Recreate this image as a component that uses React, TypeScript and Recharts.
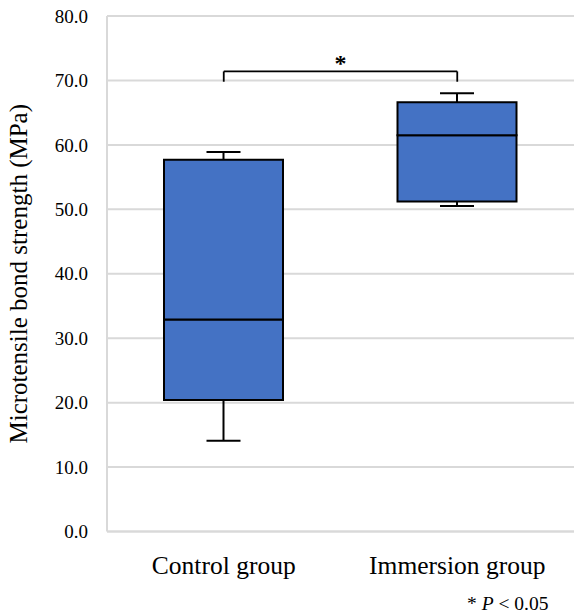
import React from "react";
import {
  ComposedChart,
  Bar,
  XAxis,
  YAxis,
  CartesianGrid,
  ReferenceLine,
} from "recharts";

const groups = ["Control group", "Immersion group"];
const mins = [14.1, 50.5];
const q1s = [20.4, 51.2];
const medians = [32.9, 61.5];
const q3s = [57.7, 66.6];
const maxs = [58.9, 68.0];
const yTicks = [0, 10, 20, 30, 40, 50, 60, 70, 80];

const bracketY = 71.4;
const bracketFoot = 69.8;

const BOX_FILL = "#4472C4";
const GRID = "#d9d9d9";
const FONT = "'Liberation Serif', 'Times New Roman', serif";

const rows = groups.map((g, i) => ({
  group: g,
  base: mins[i],
  lowWhisker: q1s[i] - mins[i],
  lowBox: medians[i] - q1s[i],
  highBox: q3s[i] - medians[i],
  highWhisker: maxs[i] - q3s[i],
}));

function LowWhisker(props: any) {
  const { x, y, width, height } = props;
  const cx = x + width / 2;
  return (
    <g stroke="#000" strokeWidth={2}>
      <line x1={cx} x2={cx} y1={y} y2={y + height} />
      <line x1={cx - 17} x2={cx + 17} y1={y + height} y2={y + height} />
    </g>
  );
}

function HighWhisker(props: any) {
  const { x, y, width, height } = props;
  const cx = x + width / 2;
  return (
    <g stroke="#000" strokeWidth={2}>
      <line x1={cx} x2={cx} y1={y} y2={y + height} />
      <line x1={cx - 17} x2={cx + 17} y1={y} y2={y} />
    </g>
  );
}

function YTitle(props: any) {
  const vb = props.viewBox;
  const cy = vb.y + vb.height / 2;
  return (
    <text
      x={27}
      y={cy}
      transform={`rotate(-90, 27, ${cy})`}
      textAnchor="middle"
      fontFamily={FONT}
      fontSize={25}
      fill="#000"
    >
      Microtensile bond strength (MPa)
    </text>
  );
}

function Star(props: any) {
  const vb = props.viewBox;
  return (
    <text
      x={vb.x + vb.width / 2}
      y={vb.y}
      textAnchor="middle"
      fontFamily={FONT}
      fontWeight="bold"
      fontSize={24}
      fill="#000"
    >
      *
    </text>
  );
}

export default function App() {
  return (
    <div style={{ position: "absolute", left: 0, top: 0, width: 574, height: 615, background: "#fff" }}>
      <ComposedChart
        width={574}
        height={615}
        data={rows}
        margin={{ top: 16, right: 0, left: 0, bottom: 0 }}
      >
        <CartesianGrid vertical={false} stroke={GRID} strokeWidth={2} />
        <XAxis
          dataKey="group"
          height={83.5}
          axisLine={{ stroke: GRID, strokeWidth: 2 }}
          tickLine={false}
          tickSize={0}
          tickMargin={24}
          tick={{ fontFamily: FONT, fontSize: 25.5, fill: "#000" }}
        />
        <YAxis
          width={107}
          domain={[0, 80]}
          ticks={yTicks}
          interval={0}
          tickFormatter={(v: number) => v.toFixed(1)}
          axisLine={{ stroke: GRID, strokeWidth: 2 }}
          tickLine={false}
          tickSize={0}
          tickMargin={19}
          tick={{ fontFamily: FONT, fontSize: 19, fill: "#000" }}
          label={<YTitle />}
        />
        <Bar dataKey="base" stackId="box" fill="none" barSize={119} isAnimationActive={false} />
        <Bar dataKey="lowWhisker" stackId="box" barSize={119} shape={<LowWhisker />} isAnimationActive={false} />
        <Bar dataKey="lowBox" stackId="box" barSize={119} fill={BOX_FILL} stroke="#000" strokeWidth={2} isAnimationActive={false} />
        <Bar dataKey="highBox" stackId="box" barSize={119} fill={BOX_FILL} stroke="#000" strokeWidth={2} isAnimationActive={false} />
        <Bar dataKey="highWhisker" stackId="box" barSize={119} shape={<HighWhisker />} isAnimationActive={false} />
        <ReferenceLine
          segment={[{ x: groups[0], y: bracketY }, { x: groups[1], y: bracketY }]}
          stroke="#000"
          strokeWidth={1.8}
          label={<Star />}
        />
        <ReferenceLine
          segment={[{ x: groups[0], y: bracketFoot }, { x: groups[0], y: bracketY }]}
          stroke="#000"
          strokeWidth={1.8}
        />
        <ReferenceLine
          segment={[{ x: groups[1], y: bracketFoot }, { x: groups[1], y: bracketY }]}
          stroke="#000"
          strokeWidth={1.8}
        />
      </ComposedChart>
      <svg width={574} height={615} style={{ position: "absolute", left: 0, top: 0, pointerEvents: "none" }}>
        <text x={467} y={610} fontFamily={FONT} fontSize={19.5} fill="#000">
          * <tspan fontStyle="italic">P</tspan> {"< 0.05"}
        </text>
      </svg>
    </div>
  );
}
